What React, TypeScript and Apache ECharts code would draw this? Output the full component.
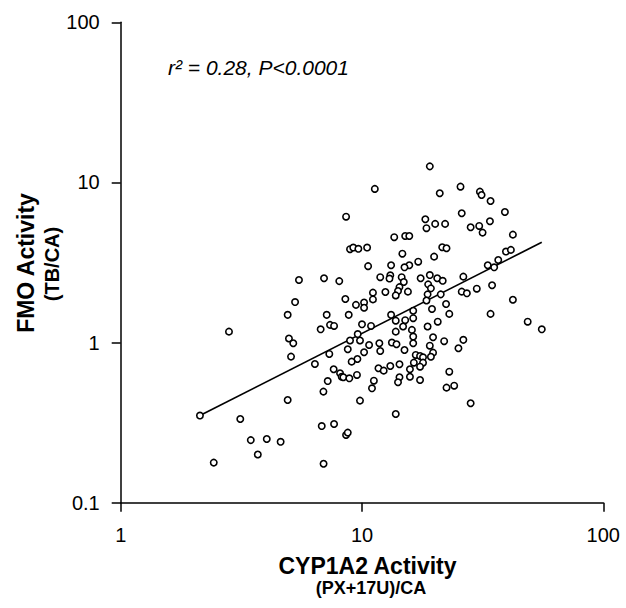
import React, { useEffect, useRef } from 'react';
import * as echarts from 'echarts';

// CYP1A2 activity (x) and FMO activity (y) for each subject
const cyp1a2Activity = [
  2.81, 2.13, 2.43, 3.13, 3.46, 3.70, 6.93,
  11.3, 8.59, 13.6, 8.92, 9.20, 9.66, 10.5, 14.7, 10.6, 13.2, 5.48, 6.96, 8.05, 11.9, 13.1, 13.0, 14.6, 14.9, 14.3, 14.1, 13.8, 12.5, 11.1, 11.1, 15.5, 5.28, 8.53, 9.44, 10.2, 10.2,
  19.1, 21.0, 25.6, 30.8, 31.3, 34.1, 39.1, 25.9, 18.3, 18.5, 20.1, 22.1, 28.2, 30.6, 31.6, 33.9, 42.2, 15.1, 15.7, 21.5, 22.4, 19.9, 17.1, 15.7, 15.0, 39.5, 41.4, 36.7, 33.2, 35.3, 26.3, 17.5, 19.1, 20.5, 21.6, 18.8, 19.3, 18.7, 21.2, 25.9, 27.2, 29.9, 34.6, 42.2, 18.5, 22.3,
  4.92, 7.14, 8.81, 6.74, 7.37, 7.66, 10.0, 10.9, 13.2, 13.8, 15.1, 14.8, 4.98, 5.19, 5.08, 6.38, 7.32, 8.92, 9.60, 9.81, 8.73, 10.7, 11.8, 10.2, 9.57, 9.06, 11.9, 13.3, 13.9, 13.8, 15.0, 7.63, 8.11, 8.24, 8.37, 8.86, 9.53, 7.21, 6.92, 11.7, 12.3, 13.1, 14.3, 14.3, 14.1, 11.2, 11.0, 4.92, 9.81, 13.8, 6.81, 7.66, 8.59, 8.73, 4.03, 4.60,
  16.3, 16.3, 16.1, 19.5, 23.0, 18.7, 20.6, 16.3, 16.3, 19.7, 21.9, 19.1, 16.7, 17.4, 17.9, 19.7, 19.3, 16.4, 17.9, 17.4, 15.8, 15.8, 17.4, 26.3, 25.1, 23.0, 22.4, 24.1, 28.2, 34.1, 48.6, 55.6,
];
const fmoActivity = [
  1.17, 0.350, 0.178, 0.333, 0.246, 0.200, 0.175,
  9.11, 6.11, 4.55, 3.83, 3.92, 3.85, 3.92, 3.59, 3.00, 3.04, 2.46, 2.52, 2.42, 2.56, 2.63, 2.51, 2.56, 2.39, 2.22, 2.10, 1.97, 2.07, 2.05, 1.86, 2.08, 1.79, 1.87, 1.72, 1.78, 1.65,
  12.6, 8.56, 9.41, 8.76, 8.35, 7.66, 6.54, 6.42, 5.89, 5.18, 5.51, 5.51, 5.25, 5.35, 4.86, 5.72, 4.72, 4.63, 4.63, 3.94, 3.88, 3.44, 3.20, 3.04, 2.95, 3.70, 3.79, 3.28, 3.04, 2.95, 2.58, 2.52, 2.64, 2.52, 2.43, 2.31, 2.18, 2.00, 2.00, 2.08, 2.03, 2.17, 2.28, 1.85, 1.83, 1.74,
  1.49, 1.49, 1.49, 1.21, 1.29, 1.27, 1.30, 1.27, 1.49, 1.37, 1.38, 1.26, 1.06, 0.99, 0.817, 0.735, 0.849, 1.03, 1.13, 1.03, 0.908, 0.966, 0.99, 0.870, 0.790, 0.760, 0.886, 1.00, 0.976, 1.17, 0.899, 0.681, 0.643, 0.612, 0.607, 0.598, 0.628, 0.575, 0.494, 0.691, 0.668, 0.714, 0.732, 0.607, 0.565, 0.578, 0.518, 0.438, 0.434, 0.358, 0.301, 0.310, 0.265, 0.274, 0.250, 0.240,
  1.58, 1.42, 1.20, 1.62, 1.51, 1.26, 1.35, 1.09, 0.99, 1.08, 1.02, 0.956, 0.837, 0.824, 0.809, 0.865, 0.816, 0.749, 0.749, 0.707, 0.681, 0.612, 0.584, 1.04, 0.921, 0.658, 0.523, 0.538, 0.418, 1.51, 1.35, 1.21,
];

// Regression line end points
const regressionX = [2.13, 55.6];
const regressionY = [0.35, 4.23];

const xTickLabels = ['1', '10', '100'];
const yTickLabels = ['0.1', '1', '10', '100'];

const xTitle = 'CYP1A2 Activity';
const xSubtitle = '(PX+17U)/CA';
const yTitle = 'FMO Activity';
const ySubtitle = '(TB/CA)';
const statText = 'r\u00B2 = 0.28, P<0.0001';

const FONT = '"Liberation Sans", Arial, Helvetica, sans-serif';

export default function App() {
  const ref = useRef<HTMLDivElement>(null);

  useEffect(() => {
    if (!ref.current) return;
    const chart = echarts.init(ref.current, null, { renderer: 'svg' });
    const axisCommon = {
      type: 'log' as const,
      logBase: 10,
      splitLine: { show: false },
      minorTick: { show: false },
      minorSplitLine: { show: false },
      axisLine: { show: true, lineStyle: { color: '#000', width: 1.5 } },
      axisTick: { show: true, inside: false, length: 9, lineStyle: { color: '#000', width: 1.5 } },
    };
    chart.setOption({
      animation: false,
      backgroundColor: '#fff',
      textStyle: { fontFamily: FONT },
      grid: { left: 120.7, top: 22.3, width: 482.6, height: 480.4, containLabel: false },
      xAxis: {
        ...axisCommon,
        min: 1,
        max: 100,
        axisLabel: {
          color: '#000',
          fontSize: 20,
          fontFamily: FONT,
          margin: 22,
          formatter: (v: number) => xTickLabels[Math.round(Math.log10(v))] ?? '',
        },
      },
      yAxis: {
        ...axisCommon,
        min: 0.1,
        max: 100,
        axisLabel: {
          color: '#000',
          fontSize: 20,
          fontFamily: FONT,
          margin: 21,
          formatter: (v: number) => yTickLabels[Math.round(Math.log10(v)) + 1] ?? '',
        },
      },
      series: [
        {
          type: 'line',
          data: regressionX.map((x, i) => [x, regressionY[i]]),
          symbol: 'none',
          lineStyle: { color: '#000', width: 1.7 },
          z: 1,
        },
        {
          type: 'scatter',
          data: cyp1a2Activity.map((x, i) => [x, fmoActivity[i]]),
          symbol: 'circle',
          symbolSize: 6.4,
          itemStyle: { color: '#fff', borderColor: '#000', borderWidth: 1.6, opacity: 1 },
          z: 2,
        },
      ],
      graphic: [
        {
          type: 'text',
          x: 367.5,
          y: 565.5,
          style: { text: xTitle, font: `bold 23px ${FONT}`, fill: '#000', textAlign: 'center', textVerticalAlign: 'middle' },
        },
        {
          type: 'text',
          x: 371,
          y: 588,
          style: { text: xSubtitle, font: `bold 18px ${FONT}`, fill: '#000', textAlign: 'center', textVerticalAlign: 'middle' },
        },
        {
          type: 'text',
          x: 26,
          y: 263,
          rotation: Math.PI / 2,
          style: { text: yTitle, font: `bold 23px ${FONT}`, fill: '#000', textAlign: 'center', textVerticalAlign: 'middle' },
        },
        {
          type: 'text',
          x: 52,
          y: 264,
          rotation: Math.PI / 2,
          style: { text: ySubtitle, font: `bold 20px ${FONT}`, fill: '#000', textAlign: 'center', textVerticalAlign: 'middle' },
        },
        {
          type: 'text',
          x: 168,
          y: 67,
          style: { text: statText, font: `italic 21px ${FONT}`, fill: '#000', textAlign: 'left', textVerticalAlign: 'middle' },
        },
      ],
    });
    return () => chart.dispose();
  }, []);

  return (
    <div
      ref={ref}
      style={{ position: 'absolute', left: 0, top: 0, width: 626, height: 608, background: '#fff' }}
    />
  );
}
